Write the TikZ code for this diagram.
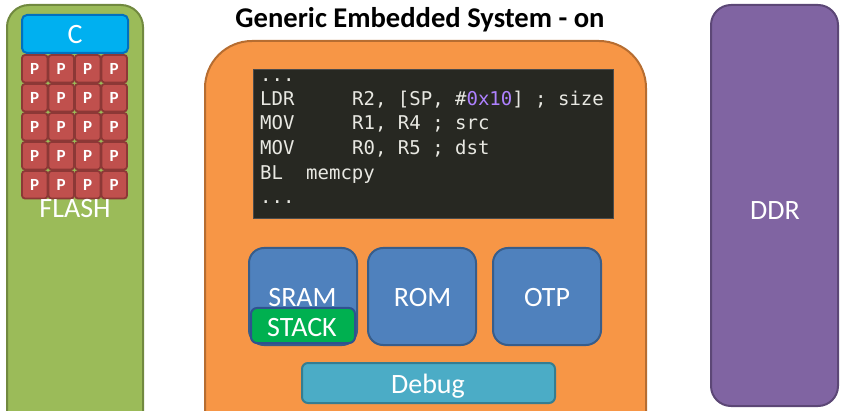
\documentclass[tikz,border=0pt]{standalone}
\usepackage{fontspec}
\setmainfont{Carlito}
\newfontfamily\codefont{DejaVu Sans Mono}
\usetikzlibrary{fit,calc}

\definecolor{flashfill}{HTML}{9BBB59}
\definecolor{flashedge}{HTML}{71893F}
\definecolor{cfill}{HTML}{00B0F0}
\definecolor{cedge}{HTML}{0070C0}
\definecolor{pfill}{HTML}{C0504D}
\definecolor{pedge}{HTML}{8C3836}
\definecolor{socfill}{HTML}{F79646}
\definecolor{socedge}{HTML}{B66D31}
\definecolor{codefill}{HTML}{272822}
\definecolor{codetext}{HTML}{E8E8E2}
\definecolor{codenum}{HTML}{AE81FF}
\definecolor{memfill}{HTML}{4F81BD}
\definecolor{memedge}{HTML}{385D8A}
\definecolor{stackfill}{HTML}{00B050}
\definecolor{stackedge}{HTML}{2F528F}
\definecolor{dbgfill}{HTML}{4BACC6}
\definecolor{dbgedge}{HTML}{357D91}
\definecolor{ddrfill}{HTML}{8064A2}
\definecolor{ddredge}{HTML}{5C4776}

\tikzset{
  box/.style={rectangle, inner sep=0pt, outer sep=0pt, line width=1.6pt},
  lbl/.style={text=white, anchor=base, inner sep=0pt, font=\fontsize{28}{28}\selectfont},
  plbl/.style={text=white, anchor=base, inner sep=0pt, font=\fontsize{17}{17}\selectfont\bfseries},
  code/.style={text=codetext, anchor=base west, inner sep=0pt, font=\codefont\fontsize{19}{19}\selectfont},
}

\begin{document}
\begin{tikzpicture}[x=1pt, y=-1pt]
\useasboundingbox (0,0) rectangle (848,411);
\clip (0,0) rectangle (848,411);

% FLASH device with its sectors
\node[box, rounded corners=22pt, fill=flashfill, draw=flashedge, line width=2pt, fit={(7,5) (143,440)}] (flash) {};
\foreach \c in {0,...,3} {
  \foreach \r in {0,...,4} {
    \node[box, rounded corners=3pt, fill=pfill, draw=pedge, line width=1.8pt,
          fit={({22+26.5*\c},{55+29*\r}) ({47.5+26.5*\c},{82.5+29*\r})}] (p\c\r) {};
    \node[plbl] at ($(p\c\r.center)+(0,5.8)$) {P};
  }
}
\node[box, rounded corners=5pt, fill=cfill, draw=cedge, line width=2pt, fit={(22,15) (128,53)}] (cblk) {};
\node[lbl] at (75,44) {C};
\node[lbl] (flashlbl) at (75,218) {FLASH};

% SoC
\node[anchor=base, inner sep=0pt, font=\fontsize{28.6}{28.6}\selectfont\bfseries] (title) at (420,28) {Generic Embedded System - on};
\node[box, rounded corners=47pt, fill=socfill, draw=socedge, line width=2pt, fit={(205,41) (646,470)}] (soc) {};

% code listing
\node[box, fill=codefill, draw=black!70, line width=0.8pt, fit={(253,69) (613,218)}] (codebox) {};
\node[code] (l0) at (260,82) {...};
\node[code] (l1) at (260,106) {LDR};
\node[code] (o1) at (352,106) {R2, [SP, \#\textcolor{codenum}{0x10}] ; size};
\node[code] (l2) at (260,130) {MOV};
\node[code] (o2) at (352,130) {R1, R4 ; src};
\node[code] (l3) at (260,155) {MOV};
\node[code] (o3) at (352,155) {R0, R5 ; dst};
\node[code] (l4) at (260,180) {BL};
\node[code] (o4) at (306,180) {memcpy};
\node[code] (l5) at (260,204) {...};

% on-chip memories
\node[box, rounded corners=15pt, fill=memfill, draw=memedge, line width=2pt, fit={(249,248) (357,345)}] (sram) {};
\node[box, rounded corners=15pt, fill=memfill, draw=memedge, line width=2pt, fit={(368,248) (476,345)}] (rom) {};
\node[box, rounded corners=15pt, fill=memfill, draw=memedge, line width=2pt, fit={(493,248) (601,345)}] (otp) {};
\node[box, rounded corners=6pt, fill=stackfill, draw=stackedge, line width=2pt, fit={(251,308) (355,343)}] (stack) {};
\node[lbl] at (302.5,307) {SRAM};
\node[lbl] at (422.5,307) {ROM};
\node[lbl] at (547,307) {OTP};
\node[lbl] at (302,336) {STACK};

\node[box, rounded corners=6pt, fill=dbgfill, draw=dbgedge, line width=2pt, fit={(302,363) (555,403)}] (debug) {};
\node[lbl] at (428,393) {Debug};

% external DDR
\node[box, rounded corners=20pt, fill=ddrfill, draw=ddredge, line width=2pt, fit={(711,5) (838,406)}] (ddr) {};
\node[lbl] at (775,220) {DDR};
\end{tikzpicture}
\end{document}
